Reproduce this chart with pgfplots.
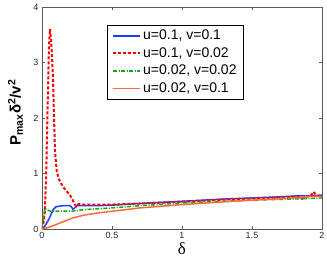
\documentclass[border=0pt]{standalone}
\usepackage{fontspec}
\setmainfont{Liberation Sans}
\newfontfamily\seriffont{Liberation Serif}
\usepackage{pgfplots}
\pgfplotsset{compat=1.18}
\definecolor{myblue}{RGB}{30,60,255}
\definecolor{myred}{RGB}{255,0,0}
\definecolor{mygreen}{RGB}{20,170,20}
\definecolor{myorange}{RGB}{255,105,60}
\begin{document}
\begin{tikzpicture}
\begin{axis}[
  scale only axis,
  width=280pt, height=222pt,
  xmin=0, xmax=2, ymin=0, ymax=4,
  xtick={0,0.5,1,1.5,2},
  xticklabels={0,0.5,1,1.5,2},
  ytick={0,1,2,3,4},
  tick align=inside,
  major tick length=3pt,
  axis line style={gray!70!black},
  every tick/.style={gray!70!black},
  /pgf/number format/assume math mode=true,
  ticklabel style={font=\fontsize{9}{10}\selectfont, text=black!85},
  xlabel={\seriffont δ},
  xlabel style={font=\fontsize{17}{18}\selectfont, at={(axis description cs:0.5,-0.09)}, anchor=center},
  ylabel={\textbf{P\textsubscript{max}δ\textsuperscript{2}/v\textsuperscript{2}}},
  ylabel style={font=\fontsize{15}{16}\selectfont, at={(axis description cs:-0.0946,0.525)}, anchor=center},
  legend style={at={(0.232,0.919)}, anchor=north west, font=\fontsize{14}{17}\selectfont,
    draw=black, inner xsep=5pt, inner ysep=2pt, row sep=0pt, legend cell align=left,
    nodes={inner sep=2pt, text height=10.5pt, text depth=3pt}},
  legend image code/.code={\draw[#1] (0pt,0pt) -- (27pt,0pt);},
]
\addplot[color=myblue, line width=1.5pt] coordinates {
(0,0) (0.02,0.05) (0.05,0.18) (0.08,0.35) (0.1,0.4) (0.12,0.41) (0.15,0.42) (0.18,0.42) (0.2,0.42) (0.21,0.4) (0.22,0.36) (0.23,0.37) (0.25,0.42) (0.3,0.42) (0.4,0.42) (0.5,0.43) (0.7,0.46) (1,0.5) (1.3,0.54) (1.5,0.56) (1.7,0.58) (1.85,0.6) (1.9,0.59) (2,0.61)};
\addlegendentry{u=0.1, v=0.1}
\addplot[color=myred, line width=2pt, dash pattern=on 3pt off 2pt] coordinates {
(0,0) (0.01,0.1) (0.02,0.3) (0.03,1.0) (0.04,2.2) (0.05,3.3) (0.057,3.6) (0.065,3.4) (0.072,3.1) (0.08,2.6) (0.086,2.0) (0.093,1.4) (0.105,1.05) (0.12,0.9) (0.15,0.76) (0.18,0.67) (0.2,0.61) (0.22,0.52) (0.235,0.44) (0.245,0.41) (0.26,0.45) (0.3,0.44) (0.5,0.44) (0.7,0.46) (1,0.49) (1.3,0.53) (1.5,0.55) (1.7,0.57) (1.83,0.58) (1.855,0.54) (1.88,0.58) (1.92,0.6) (1.94,0.67) (1.96,0.6) (2,0.6)};
\addlegendentry{u=0.1, v=0.02}
\addplot[color=mygreen, line width=1.5pt, dash pattern=on 4pt off 1.5pt on 1pt off 1.5pt] coordinates {
(0,0) (0.01,0.2) (0.02,0.37) (0.04,0.34) (0.06,0.32) (0.1,0.32) (0.2,0.32) (0.25,0.33) (0.3,0.35) (0.5,0.38) (0.7,0.42) (1,0.47) (1.3,0.5) (1.5,0.52) (1.8,0.54) (2,0.56)};
\addlegendentry{u=0.02, v=0.02}
\addplot[color=myorange, line width=1.5pt] coordinates {
(0,0) (0.05,0.03) (0.1,0.08) (0.15,0.13) (0.22,0.2) (0.3,0.25) (0.4,0.29) (0.5,0.32) (0.7,0.38) (1,0.44) (1.3,0.49) (1.5,0.52) (1.8,0.56) (1.95,0.59) (2,0.58)};
\addlegendentry{u=0.02, v=0.1}
\end{axis}
\pgfresetboundingbox
\useasboundingbox (-42pt,-29pt) rectangle (285pt,229pt);
\end{tikzpicture}
\end{document}
